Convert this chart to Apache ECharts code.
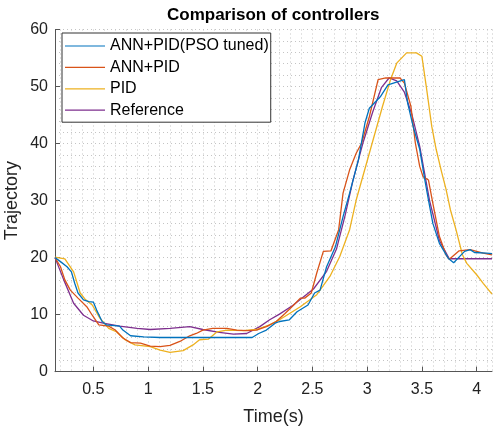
<!DOCTYPE html>
<html>
<head>
<meta charset="utf-8">
<script src="https://cdn.jsdelivr.net/npm/echarts@6/dist/echarts.min.js"></script>
<style>
html,body{margin:0;padding:0;background:#fff;}
#chart{width:496px;height:429px;}
</style>
</head>
<body>
<div id="chart"></div>
<script>
// ---- data ----
const seriesNames = ['ANN+PID(PSO tuned)', 'ANN+PID', 'PID', 'Reference'];

const psoTime = [0.15,0.20,0.26,0.30,0.33,0.36,0.41,0.46,0.50,0.53,0.58,0.62,0.74,0.77,0.84,0.96,1.11,1.95,2.01,2.08,2.16,2.20,2.29,2.36,2.46,2.52,2.57,2.63,2.71,2.78,2.84,2.92,2.98,3.02,3.12,3.19,3.24,3.34,3.37,3.42,3.48,3.53,3.56,3.60,3.66,3.74,3.79,3.85,3.89,3.94,3.98,4.09,4.14];
const psoValue = [20,19.3,18.4,17.5,15.5,13.8,12.6,12.3,12.2,10.8,8.8,8.2,8.0,7.3,6.3,6.1,6.0,6.0,6.7,7.3,8.5,8.8,9.1,10.5,11.7,13.8,14.3,18.4,21.9,27.2,31.3,37.1,43.6,46.2,48.2,50.3,50.6,51.2,47.1,43.0,39.0,33.3,30.1,26.0,22.5,19.9,19.1,20.3,21.1,21.4,20.9,20.8,20.7];

const annTime = [0.15,0.20,0.24,0.29,0.36,0.44,0.49,0.55,0.64,0.70,0.77,0.84,0.93,1.02,1.11,1.20,1.29,1.38,1.44,1.50,1.59,1.72,1.81,1.90,1.99,2.08,2.17,2.25,2.33,2.39,2.43,2.49,2.54,2.60,2.67,2.74,2.78,2.84,2.90,2.95,3.02,3.10,3.17,3.30,3.34,3.40,3.44,3.48,3.51,3.56,3.60,3.66,3.72,3.75,3.84,3.94,4.06,4.14];
const annValue = [20,18.4,16.1,14.3,12.9,11.4,9.9,8.2,8.0,7.3,5.9,5.1,5.0,4.5,4.4,4.6,5.3,6.3,6.7,7.3,7.6,7.6,7.3,7.2,7.3,7.9,8.8,10.2,11.7,12.9,12.9,13.8,17.3,21.1,21.2,24.9,31.3,35.4,38.3,40.1,44.7,51.2,51.5,51.5,50.6,46.5,40.1,36.0,34.2,33.6,29.5,23.7,20.5,19.7,21.2,21.4,20.8,20.5];

const pidTime = [0.15,0.24,0.32,0.38,0.43,0.49,0.56,0.64,0.71,0.79,0.88,1.02,1.11,1.20,1.32,1.41,1.47,1.55,1.63,1.72,1.87,1.99,2.11,2.20,2.39,2.54,2.66,2.75,2.84,2.90,3.02,3.14,3.21,3.27,3.36,3.45,3.50,3.54,3.59,3.63,3.68,3.72,3.76,3.81,3.87,3.91,4.00,4.06,4.14];
const pidValue = [20.1,19.8,17.5,13.8,12.6,11.7,9.4,7.6,7.0,5.6,4.7,4.4,3.8,3.4,3.7,4.7,5.6,5.7,7.0,7.3,7.2,7.4,8.2,9.1,11.4,13.5,16.7,20.2,24.9,30.1,38.3,46.5,51.0,54.1,55.9,55.9,55.3,50.0,43.0,39.0,35.0,32.0,28.4,25.0,20.5,19.0,17.0,15.5,13.6];

const refTime = [0.15,0.23,0.32,0.41,0.50,0.59,0.74,0.90,1.02,1.20,1.38,1.50,1.65,1.78,1.90,2.02,2.11,2.20,2.32,2.51,2.63,2.72,2.80,2.87,2.96,3.05,3.13,3.20,3.27,3.34,3.41,3.48,3.57,3.66,3.75,4.14];
const refValue = [20,16.1,12.0,9.9,8.9,8.5,8.0,7.6,7.4,7.6,7.9,7.4,6.9,6.6,6.7,7.9,9.1,10.1,11.6,14.5,17.6,21.5,27.5,33.5,40.0,45.5,49.8,51.5,51.0,49.0,45.0,39.5,30.0,23.0,19.8,19.8];

const colors = ['#0072BD', '#D95319', '#EDB120', '#7E2F8E'];

// ---- chart ----
function zip(t, v) { return t.map((x, i) => [x, v[i]]); }
const allData = [zip(psoTime, psoValue), zip(annTime, annValue), zip(pidTime, pidValue), zip(refTime, refValue)];

const gridLine = { show: true, lineStyle: { color: '#c4c4c4', type: [1, 3], width: 1 } };
const axisCol = '#555';
const FONT = 'Liberation Sans, Arial, sans-serif';
// thin horizontal bar icon, with tiny corner dots that fix the icon's bounding box
const lineIcon = 'path://M0,0 h0.01 v0.01 h-0.01 Z M0,7.4 H40 V8.6 H0 Z M39.99,15.99 h0.01 v0.01 h-0.01 Z';

const chart = echarts.init(document.getElementById('chart'), null, { renderer: 'canvas' });
chart.setOption({
  animation: false,
  backgroundColor: '#fff',
  title: {
    text: 'Comparison of controllers',
    left: 167, top: 7, padding: 0,
    textStyle: { fontFamily: FONT, fontSize: 17, fontWeight: 'bold', color: '#000' }
  },
  legend: {
    data: seriesNames.map(n => ({ name: n, icon: lineIcon })),
    orient: 'vertical',
    left: 62, top: 33,
    padding: [5, 2, 4, 3],
    itemWidth: 40, itemHeight: 16, itemGap: 5.4,
    backgroundColor: '#fff',
    borderColor: '#333', borderWidth: 1,
    textStyle: { fontFamily: FONT, fontSize: 16, color: '#000' }
  },
  grid: { left: 55, right: 4, top: 29.5, bottom: 57.3, containLabel: false, outerBoundsMode: 'none' },
  xAxis: {
    type: 'value', min: 0.15, max: 4.14, splitNumber: 8,
    name: 'Time(s)', nameLocation: 'middle', nameGap: 36, nameMoveOverlap: false,
    nameTextStyle: { fontFamily: FONT, fontSize: 18, color: '#222' },
    axisLine: { show: true, lineStyle: { color: axisCol, width: 1 } },
    axisTick: { show: true, inside: true, length: 5, lineStyle: { color: axisCol } },
    axisLabel: { showMinLabel: false, showMaxLabel: false, margin: 10,
      fontFamily: FONT, fontSize: 16, color: '#222' },
    splitLine: gridLine,
    minorTick: { show: false, splitNumber: 5 },
    minorSplitLine: gridLine
  },
  yAxis: {
    type: 'value', min: 0, max: 60, interval: 10,
    name: 'Trajectory', nameLocation: 'middle', nameGap: 34, nameMoveOverlap: false,
    nameTextStyle: { fontFamily: FONT, fontSize: 18, color: '#222' },
    axisLine: { show: true, lineStyle: { color: axisCol, width: 1 } },
    axisTick: { show: true, inside: true, length: 5, lineStyle: { color: axisCol } },
    axisLabel: { margin: 7, fontFamily: FONT, fontSize: 16, color: '#222' },
    splitLine: gridLine,
    minorTick: { show: false, splitNumber: 5 },
    minorSplitLine: gridLine
  },
  series: seriesNames.map((n, i) => ({
    name: n,
    type: 'line',
    data: allData[i],
    symbol: 'none',
    color: colors[i],
    lineStyle: { width: 1.3, color: colors[i] },
    z: 10 - i
  }))
});
</script>
</body>
</html>
